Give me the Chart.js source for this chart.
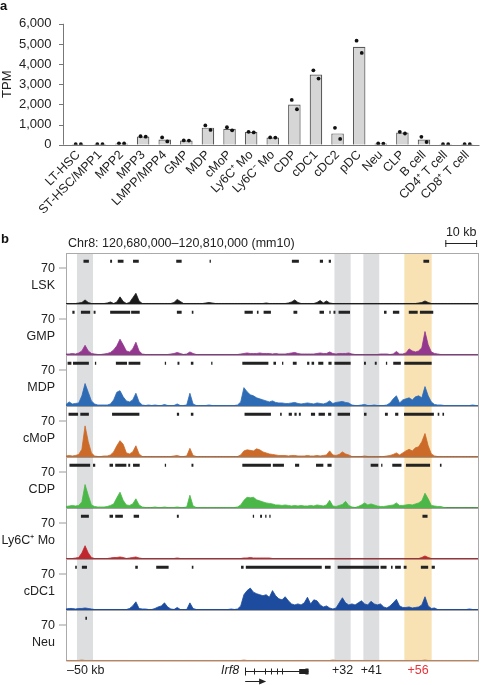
<!DOCTYPE html>
<html><head><meta charset="utf-8">
<script src="https://cdn.jsdelivr.net/npm/chart.js@4/dist/chart.umd.min.js"></script>
<style>
html,body{margin:0;padding:0;background:#fff;}
body{width:482px;height:685px;position:relative;overflow:hidden;font-family:"Liberation Sans",Arial,sans-serif;}
#ca{position:absolute;left:0;top:0;}
#cb{position:absolute;left:0;top:225px;}
</style></head><body>
<canvas id="ca" width="482" height="225"></canvas>
<canvas id="cb" width="482" height="460"></canvas>
<script>
// ---------- Panel a data ----------
const cellTypes = ['LT-HSC','ST-HSC/MPP1','MPP2','MPP3','LMPP/MPP4','GMP','MDP','cMoP','Ly6C\u207A Mo','Ly6C\u207B Mo','CDP','cDC1','cDC2','pDC','Neu','CLP','B cell','CD4\u207A T cell','CD8\u207A T cell'];
const tpmMean = [25,25,65,410,255,205,845,790,625,358,1990,3485,560,4860,60,600,260,25,25];
const tpmRep1 = [28,28,70,420,360,210,955,865,640,360,2220,3690,835,5165,62,640,390,28,28];
const tpmRep2 = [25,25,60,400,165,205,735,715,610,355,1760,3280,285,4555,58,555,135,25,25];
const tpmMax = 6000;
const tpmStep = 1000;

// ---------- Panel b data (kb from chr8:120,680,000, 1-kb bins) ----------
const tracks = ['LSK','GMP','MDP','cMoP','CDP','Ly6C\u207A Mo','cDC1','Neu'];
const sigLSK = [1,1,1,1,2,3,8,3,1,1, 1,1,1,2,4,1,4,14,5,1, 3,12,21,6,1,1,1,1,1,1, 1,1,1,1,3,9,5,1,1,1, 1,1,1,1,2,3,2,1,1,1, 1,1,1,1,1,1,1,1,1,1, 1,1,1,2,1,1,1,1,1,1, 2,4,8,3,1,1,1,1,1,3, 7,2,6,2,1,1,1,1,1,1, 1,1,1,1,1,1,1,1,1,1, 1,1,1,1,1,1,1,1,1,1, 1,2,3,6,3,1,1,1,1,1, 1,1,1,1,1,1,1,1,1,1,1];
const sigGMP = [2,2,3,2,4,8,19,8,3,2, 1,1,2,3,5,10,18,31,20,8, 6,12,25,8,2,1,1,1,1,1, 1,1,1,2,3,5,3,1,2,6, 3,1,1,1,1,1,1,1,1,1, 1,1,1,1,1,2,3,4,3,3, 3,4,3,3,3,2,3,2,2,2, 3,4,5,3,2,2,2,2,2,3, 4,3,3,6,3,2,3,3,3,4, 2,1,1,1,1,1,1,1,1,2, 2,2,1,2,7,2,2,4,12,8, 6,8,14,46,20,6,3,2,1,1, 1,1,1,1,1,1,1,1,1,1,1];
const sigMDP = [3,8,4,5,6,20,44,27,10,4, 2,2,2,2,4,12,27,30,18,10, 8,12,25,8,2,1,2,1,2,1, 1,3,1,1,1,4,1,1,2,25, 4,1,1,1,1,2,1,1,1,1, 1,1,1,1,2,8,36,28,22,20, 16,14,12,10,8,10,7,6,6,5, 5,6,7,5,4,5,6,5,4,6, 5,4,6,10,5,7,8,9,7,6, 2,1,1,2,3,1,1,2,1,1, 1,2,6,14,20,6,12,14,16,12, 18,20,16,38,20,8,3,2,2,1, 1,1,1,1,1,1,1,1,2,1,1];
const sigCMoP = [2,3,2,3,5,15,61,30,8,2, 1,1,2,2,4,10,22,32,25,8, 6,10,22,6,1,1,1,1,1,1, 1,1,1,1,2,3,1,1,2,17, 3,1,1,1,1,1,1,1,1,1, 1,1,1,1,1,4,12,14,13,12, 16,14,10,8,6,5,4,3,3,3, 2,3,3,2,2,2,3,2,2,3, 2,3,4,12,4,3,5,10,6,4, 1,1,1,1,2,1,1,1,1,1, 1,2,3,5,8,4,8,12,15,12, 18,20,30,46,22,6,2,1,1,1, 1,1,1,1,1,1,1,1,1,1,1];
const sigCDP = [3,4,5,4,5,12,46,25,6,3, 2,2,2,3,5,8,20,31,15,6, 5,8,18,6,2,1,1,1,2,1, 1,2,1,1,1,2,1,1,2,25, 4,1,1,1,1,1,1,1,1,1, 1,1,1,1,2,6,15,21,20,21, 16,14,12,10,9,8,6,6,5,6, 5,4,5,4,5,4,4,5,4,6, 5,4,6,15,4,3,5,7,13,5, 2,1,3,6,10,6,8,6,4,3, 3,4,5,6,10,5,5,6,7,6, 8,10,14,29,18,5,4,3,3,1, 0.5,0.5,0.5,0.5,0.5,0.5,0.5,0.5,0.5,0.5,0.5];
const sigLy6C = [1,1,1,2,3,12,26,12,3,1, 1,1,1,1,2,3,3,4,3,1, 2,3,4,2,1,1,1,1,1,1, 1,1,1,1,1,2,1,1,1,1, 1,1,1,1,1,1,1,1,1,1, 1,1,1,1,1,1,2,2,3,2, 2,2,2,2,2,1,1,1,1,1, 1,1,1,1,1,1,1,1,1,1, 1,1,1,1,1,1,1,1,1,1, 1,1,1,1,1,1,1,1,1,1, 1,1,1,1,1,1,1,1,1,1, 1,1,3,6,3,1,1,1,1,1, 1,1,1,1,1,1,1,1,1,1,1];
const sigCDC1 = [2,3,3,2,3,3,4,3,2,1, 1,1,1,1,1,1,1,1,1,1, 3,8,16,3,2,2,1,1,3,6, 8,14,6,2,1,5,1,1,1,14, 3,1,1,1,1,1,1,1,1,1, 1,1,2,1,2,8,30,38,43,35, 32,30,28,30,25,38,28,22,20,26, 18,12,10,12,10,14,25,12,20,18, 10,6,8,4,2,4,14,24,14,10, 12,10,14,18,12,10,17,12,10,12, 6,4,8,14,21,8,5,5,6,4, 5,6,10,26,8,3,4,1,1,1, 1,1,1,1,1,1,1,2,1,1,1];
const sigNeu = [1,1,1,1,1,2,1,1,1,1, 1,1,1,1,1,1,1,1,1,1, 1,1,1,1,1,1,1,1,1,1, 1,1,1,1,1,1,1,1,1,1, 1,1,1,1,1,1,1,1,1,1, 1,1,1,1,1,1,2,1,1,1, 1,1,1,1,1,1,1,1,1,1, 1,1,1,1,1,1,1,1,1,1, 1,1,1,1,2,1,1,1,1,1, 1,1,1,1,1,1,1,1,1,1, 1,1,1,1,1,1,1,1,1,1, 1,1,1,2,1,1,1,1,1,1, 1,1,1,1,1,1,1,1,1,1,1];

const peaksLSK = [[5.5,7.2],[13.9,14.5],[16.3,18.1],[21.1,22.9],[34.7,36.4],[45.2,45.6],[71.1,73.3],[79.9,80.9],[82.7,83.4],[112.5,114.3]];
const peaksGMP = [[2.0,2.7],[4.7,7.6],[8.7,9.3],[13.9,20.2],[20.5,23.2],[34.9,36.4],[39.6,40.1],[56.2,58.8],[60.1,60.6],[62.2,64.5],[71.6,72.8],[79.8,81.2],[82.9,83.3],[84.2,84.8],[85.8,89.4],[100.1,100.9],[102.9,104.9],[107.9,110.7],[111.4,115.6]];
const peaksMDP = [[0.5,1.7],[2.2,7.2],[9.1,9.5],[15.7,19.2],[19.7,23.4],[31.1,31.5],[35.1,35.7],[39.3,40.1],[45.7,46.1],[55.5,63.7],[65.3,66.1],[68.0,68.4],[71.4,72.6],[75.9,76.6],[77.3,78.1],[79.4,81.0],[82.6,83.6],[84.5,89.6],[93.8,94.4],[97.2,97.8],[100.7,101.1],[103.0,105.4],[106.5,115.1]];
const peaksCMoP = [[0.8,3.8],[4.5,7.2],[14.5,23.1],[34.9,35.6],[39.3,40.1],[56.2,64.5],[67.4,67.9],[70.1,71.1],[71.9,72.6],[73.3,73.9],[77.1,78.4],[79.5,81.5],[82.5,83.5],[85.5,89.4],[93.8,94.6],[100.4,101.3],[103.6,104.6],[106.4,115.8],[117.0,117.5],[118.5,119.0]];
const peaksCDP = [[1.1,7.6],[8.5,9.2],[13.7,14.8],[15.5,19.0],[19.6,20.2],[21.1,23.2],[31.1,31.5],[39.5,40.1],[55.5,64.5],[65.1,68.6],[72.1,73.4],[78.7,81.0],[82.3,83.6],[95.9,98.3],[99.2,99.6],[102.7,105.6],[107.0,114.6],[117.7,118.2]];
const peaksLy6C = [[4.7,7.2],[13.7,14.8],[15.5,17.9],[21.3,23.0],[34.9,35.5],[58.8,59.2],[61.1,61.7],[62.7,63.1],[64.0,64.4],[112.2,113.8]];
const peaksCDC1 = [[2.9,3.4],[5.0,6.6],[21.8,22.6],[28.4,32.3],[39.6,40.1],[55.1,55.9],[56.6,80.5],[81.5,83.3],[85.5,98.5],[99.0,100.9],[102.3,102.8],[103.6,105.4],[106.3,107.2],[111.7,114.0],[115.1,116.1]];
const peaksNeu = [[6.1,6.6]];

const grayRegions = [[3.45,8.49],[84.5,89.6],[93.6,98.6]];
const enhancerRegion = [106.5,115.1];
const regionLabels = ['\u201350 kb','+32','+41','+56'];
const locusTitle = 'Chr8: 120,680,000\u2013120,810,000 (mm10)';
const locusSpanKb = 130;
const trackMax = 100;
const trackTick = 70;
const scaleBarKb = [119.4,129.4];
const irf8Span = [56.4,76.3];
const irf8Exons = [59.3,62.5,64.5,66.4,67.9];
const irf8Utr = [73.4,76.3];
const irf8ArrowEnd = 63.0;

// ---------- styles ----------
const FONT = '"Liberation Sans", Arial, sans-serif';
Chart.defaults.font.family = FONT;
Chart.defaults.color = '#222';
const trackColors = ['#1a1a1a','#93378f','#2e6bb5','#cc6a2a','#4bb748','#c0262d','#1d4b9d','#c9804a'];
const PEAK_LEVEL = 84, LABEL_LEVEL = 37, REP_SHIFT = 0.12;

// ---------- Panel a ----------
const axesA = {
  id:'axesA',
  afterDraw(chart){
    const {ctx, chartArea:ca, scales} = chart; const y = scales.y;
    const ax = Math.round(ca.left - 5) + 0.5;
    ctx.save();
    ctx.strokeStyle = '#777'; ctx.lineWidth = 1;
    ctx.beginPath();
    ctx.moveTo(ax, y.getPixelForValue(tpmMax)); ctx.lineTo(ax, y.getPixelForValue(0));
    y.ticks.forEach(t => { const py = Math.round(y.getPixelForValue(t.value)) + 0.5; ctx.moveTo(ax - 4.5, py); ctx.lineTo(ax, py); });
    const py0 = Math.round(y.getPixelForValue(0)) + 0.5;
    ctx.moveTo(ax - 2, py0); ctx.lineTo(ca.right + 1.5, py0);
    ctx.stroke();
    ctx.fillStyle = '#111'; ctx.font = 'bold 13px ' + FONT; ctx.textBaseline = 'top'; ctx.textAlign = 'left';
    ctx.fillText('a', 0, 0);
    ctx.restore();
  }
};

new Chart(document.getElementById('ca'), {
  type:'bar',
  data:{
    datasets:[
      {type:'bar', data: tpmMean.map((v,i)=>({x:i, y:v})), backgroundColor:'#d6d6d6', borderColor:'#5a5a5a', borderWidth:1.2, barPercentage:0.58, categoryPercentage:1, order:2},
      {type:'scatter', data: tpmRep1.map((v,i)=>({x:i-REP_SHIFT, y:v})), pointRadius:1.9, pointBackgroundColor:'#111', pointBorderWidth:0, order:1},
      {type:'scatter', data: tpmRep2.map((v,i)=>({x:i+REP_SHIFT, y:v})), pointRadius:1.9, pointBackgroundColor:'#111', pointBorderWidth:0, order:1}
    ]
  },
  options:{
    responsive:false, animation:false, devicePixelRatio:1, events:[],
    layout:{padding:{top:10, right:2, left:0, bottom:0}},
    plugins:{legend:{display:false}, tooltip:{enabled:false}},
    scales:{
      x:{type:'linear', min:-0.5, max:cellTypes.length-0.5, offset:false,
         grid:{display:false, drawTicks:false}, border:{display:false},
         afterBuildTicks: s => { s.ticks = cellTypes.map((_, i) => ({value:i})); },
         ticks:{autoSkip:false, maxRotation:45, minRotation:45, padding:3, font:{size:12.5}, color:'#222',
                callback: v => cellTypes[v]},
         afterFit: s => { s.height = 80.3; }},
      y:{type:'linear', min:0, max:tpmMax, grid:{display:false, drawTicks:false}, border:{display:false},
         ticks:{stepSize:tpmStep, padding:16, font:{size:13}, color:'#222', callback: v => v.toLocaleString('en-US')},
         title:{display:true, text:'TPM', font:{size:13}, color:'#222', padding:{top:0,bottom:0}},
         afterFit: s => { s.width = 67.5; }}
    }
  },
  plugins:[axesA]
});

// ---------- Panel b ----------
const signals = [sigLSK, sigGMP, sigMDP, sigCMoP, sigCDP, sigLy6C, sigCDC1, sigNeu];
const peaks = [peaksLSK, peaksGMP, peaksMDP, peaksCMoP, peaksCDP, peaksLy6C, peaksCDC1, peaksNeu];

function peakPoints(list){
  const pts = [];
  list.forEach(([a,b]) => { pts.push({x:a, y:PEAK_LEVEL}, {x:b, y:PEAK_LEVEL}, {x:b, y:null}); });
  return pts;
}

const datasetsB = [];
tracks.forEach((name, t) => {
  datasetsB.push({type:'line', yAxisID:'y'+t, data: signals[t].map((v,i)=>({x:i, y:v})),
    borderColor: trackColors[t], backgroundColor: trackColors[t], borderWidth:0.8, fill:'origin', pointRadius:0, tension:0});
  datasetsB.push({type:'line', yAxisID:'y'+t, data: peakPoints(peaks[t]),
    borderColor:'#222', borderWidth:3, borderCapStyle:'butt', fill:false, pointRadius:0, spanGaps:false});
});

const scalesB = { x:{type:'linear', min:0, max:locusSpanKb, display:false} };
for (let t = tracks.length - 1; t >= 0; t--) {
  scalesB['y'+t] = {
    type:'linear', position:'left', stack:'tracks', stackWeight:1, min:0, max:trackMax, offset:false,
    afterBuildTicks: s => { s.ticks = [{value:0},{value:LABEL_LEVEL},{value:trackTick}]; },
    afterFit: s => { s.width = 66; },
    ticks:{autoSkip:false, padding:4, font:{size:12.5}, color:'#222',
      callback: v => v === trackTick ? String(trackTick) : (v === LABEL_LEVEL ? tracks[t] : '')},
    grid:{drawOnChartArea:true, drawTicks:true, tickLength:7, tickWidth:1,
      tickColor: c => (c.tick && c.tick.value === trackTick) ? '#9a9a9a' : 'rgba(0,0,0,0)',
      color: c => (c.tick && c.tick.value === 0) ? (t === tracks.length-1 ? '#9a9a9a' : '#4a4a4a') : 'rgba(0,0,0,0)',
      lineWidth: c => (c.tick && c.tick.value === 0) ? 1.4 : 0},
    border:{display:true, color:'#aaa', width:1}
  };
}

const decorB = {
  id:'decorB',
  beforeDraw(chart){
    const {ctx, chartArea:ca, scales:{x}} = chart;
    ctx.save();
    ctx.fillStyle = '#dcdee0';
    grayRegions.forEach(([a,b]) => { const p0 = x.getPixelForValue(a), p1 = x.getPixelForValue(b); ctx.fillRect(p0, ca.top, p1-p0, ca.bottom-ca.top); });
    ctx.fillStyle = '#f8e2b3';
    { const p0 = x.getPixelForValue(enhancerRegion[0]), p1 = x.getPixelForValue(enhancerRegion[1]); ctx.fillRect(p0, ca.top, p1-p0, ca.bottom-ca.top); }
    ctx.restore();
  },
  afterDraw(chart){
    const {ctx, chartArea:ca, scales:{x}} = chart;
    ctx.save();
    ctx.strokeStyle = '#aaa'; ctx.lineWidth = 1;
    ctx.beginPath();
    ctx.moveTo(ca.left, Math.round(ca.top)+0.5); ctx.lineTo(ca.right, Math.round(ca.top)+0.5);
    ctx.moveTo(Math.round(ca.right)-0.5, ca.top); ctx.lineTo(Math.round(ca.right)-0.5, ca.bottom);
    ctx.stroke();
    ctx.fillStyle = '#111'; ctx.font = 'bold 13px ' + FONT; ctx.textBaseline = 'middle'; ctx.textAlign = 'left';
    ctx.fillText('b', 1, 14);
    ctx.fillStyle = '#222'; ctx.font = '12.5px ' + FONT;
    ctx.fillText(locusTitle, ca.left + 2, 19);
    const s0 = x.getPixelForValue(scaleBarKb[0]), s1 = x.getPixelForValue(scaleBarKb[1]);
    ctx.textAlign = 'center'; ctx.fillText('10 kb', (s0+s1)/2, 8);
    ctx.strokeStyle = '#222'; ctx.lineWidth = 1;
    ctx.beginPath();
    ctx.moveTo(s0, 18.5); ctx.lineTo(s1, 18.5);
    ctx.moveTo(s0+0.5, 15); ctx.lineTo(s0+0.5, 22);
    ctx.moveTo(s1-0.5, 15); ctx.lineTo(s1-0.5, 22);
    ctx.stroke();
    const yL = ca.bottom + 10;
    ctx.textAlign = 'left';
    ctx.fillText(regionLabels[0], ca.left + 1, yL);
    ctx.textAlign = 'center';
    grayRegions.slice(1).forEach(([a,b], i) => { ctx.fillText(regionLabels[i+1], x.getPixelForValue((a+b)/2), yL); });
    ctx.fillStyle = '#e8333a';
    ctx.fillText(regionLabels[3], x.getPixelForValue((enhancerRegion[0]+enhancerRegion[1])/2), yL);
    const g0 = x.getPixelForValue(irf8Span[0]), g1 = x.getPixelForValue(irf8Span[1]);
    ctx.fillStyle = '#222'; ctx.font = 'italic 12.5px ' + FONT; ctx.textAlign = 'right';
    ctx.fillText('Irf8', g0 - 6, yL);
    ctx.strokeStyle = '#222'; ctx.lineWidth = 1;
    ctx.beginPath();
    ctx.moveTo(g0, yL + 0.5); ctx.lineTo(g1, yL + 0.5);
    ctx.moveTo(Math.round(g0)+0.5, yL - 3.5); ctx.lineTo(Math.round(g0)+0.5, yL + 4.5);
    irf8Exons.forEach(k => { const p = Math.round(x.getPixelForValue(k)) + 0.5; ctx.moveTo(p, yL - 2.5); ctx.lineTo(p, yL + 3.5); });
    ctx.stroke();
    const u0 = x.getPixelForValue(irf8Utr[0]), u1 = x.getPixelForValue(irf8Utr[1]);
    ctx.fillRect(u0, yL - 2, u1 - u0, 5);
    ctx.fillRect(u1 - 3, yL - 2.5, 3, 6);
    const a1 = x.getPixelForValue(irf8ArrowEnd);
    ctx.beginPath(); ctx.moveTo(g0, yL + 10.5); ctx.lineTo(a1 - 5, yL + 10.5); ctx.stroke();
    ctx.beginPath(); ctx.moveTo(a1, yL + 10.5); ctx.lineTo(a1 - 7, yL + 7.5); ctx.lineTo(a1 - 7, yL + 13.5); ctx.closePath(); ctx.fill();
    ctx.restore();
  }
};

new Chart(document.getElementById('cb'), {
  type:'line',
  data:{ datasets: datasetsB },
  options:{
    responsive:false, animation:false, devicePixelRatio:1, events:[],
    layout:{padding:{top:28, right:3, left:0, bottom:24}},
    plugins:{legend:{display:false}, tooltip:{enabled:false}},
    scales: scalesB
  },
  plugins:[decorB]
});
</script>
</body></html>
